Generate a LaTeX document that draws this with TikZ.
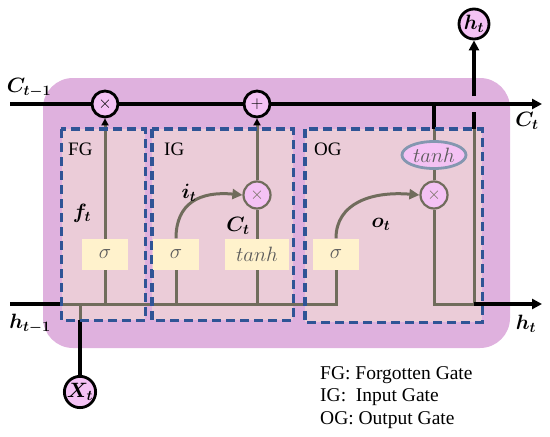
\documentclass[tikz,border=0pt]{standalone}
\usepackage{amsmath,amssymb}
\usepackage{fontspec}
\setmainfont{Liberation Serif}
\usetikzlibrary{arrows.meta,shapes.geometric,backgrounds}

\definecolor{cellbg}{RGB}{223,177,222}
\definecolor{gatebg}{RGB}{235,204,216}
\definecolor{dashblue}{RGB}{47,84,150}
\definecolor{wiregray}{RGB}{112,108,92}
\definecolor{opfill}{RGB}{244,194,244}
\definecolor{actfill}{RGB}{255,242,204}
\definecolor{actedge}{RGB}{132,151,176}
\definecolor{acttext}{RGB}{90,90,90}

\begin{document}
\begin{tikzpicture}[x=1pt,y=-1pt,
  bwire/.style={line width=3.6pt,black},
  wire/.style={line width=3pt,wiregray},
  grp/.style={draw=dashblue,line width=3.4pt,dash pattern=on 9pt off 5pt},
  grpfill/.style={fill=gatebg,inner sep=0pt},
  act/.style={fill=actfill,minimum width=46pt,minimum height=31pt,inner sep=0pt,text=acttext,font=\fontsize{20}{22}\selectfont},
  op/.style={circle,draw,line width=2.8pt,fill=opfill,minimum size=26pt,inner sep=0pt,font=\fontsize{19}{20}\selectfont},
  iop/.style={op,draw=wiregray,text=wiregray,line width=2.2pt,minimum size=27pt},
  io/.style={op,minimum size=30pt,font=\fontsize{20}{22}\selectfont},
  lbl/.style={font=\fontsize{21}{22}\selectfont},
  gname/.style={font=\fontsize{19}{22}\selectfont,anchor=west,inner sep=0pt},
  cellarrow/.style={-{Triangle[length=10pt,width=10pt]}},
  gatearrow/.style={-{Triangle[length=7pt,width=7pt,color=black]}},
  curvearrow/.style={-{Triangle[length=10pt,width=10pt]}}]
  \useasboundingbox (0,0) rectangle (550,437);

  % ends of the cell and hidden state lines
  \coordinate (cin) at (10,104);
  \coordinate (cout) at (542,104);
  \coordinate (hin) at (10,304);
  \coordinate (hout) at (542,304);
  \coordinate (hcor) at (474,304);

  % operations on the cell state
  \node[op] (fmul) at (105,104) {$\times$};
  \node[op] (cadd) at (257,104) {$+$};
  \node[io] (htop) at (474,24) {$\boldsymbol{h_t}$};
  \node[io] (xt) at (80,392) {$\boldsymbol{X_t}$};

  % gate layers
  \node[act] (sigf) at (105,254) {$\sigma$};
  \node[act] (sigi) at (176,254) {$\sigma$};
  \node[act,minimum width=64pt] (tanhi) at (257,254) {$tanh$};
  \node[act] (sigo) at (336,254) {$\sigma$};
  \node[iop] (imul) at (257,195) {$\times$};
  \node[iop] (omul) at (434,195) {$\times$};
  \node[ellipse,draw=actedge,line width=2.8pt,fill=opfill,minimum width=64pt,minimum height=27pt,inner sep=0pt,text=acttext,font=\fontsize{20}{22}\selectfont] (tanho) at (434,155) {$tanh$};

  % labels
  \node[lbl] (clast) at (29,88) {$\boldsymbol{C_{t-1}}$};
  \node[lbl] (cnext) at (527,121) {$\boldsymbol{C_t}$};
  \node[lbl] (hlast) at (30,324) {$\boldsymbol{h_{t-1}}$};
  \node[lbl] (hnext) at (526,324) {$\boldsymbol{h_t}$};
  \node[lbl] (ft) at (82,213) {$\boldsymbol{f_t}$};
  \node[lbl] (it) at (189,193) {$\boldsymbol{i_t}$};
  \node[lbl] (ct) at (238,226) {$\boldsymbol{C_t}$};
  \node[lbl] (ot) at (381,224) {$\boldsymbol{o_t}$};

  \begin{scope}[on background layer]
    \fill[cellbg,rounded corners=30pt] (43,78) rectangle (510,348);
    \node[grpfill,minimum width=83.5pt,minimum height=191pt] (fg) at (103.25,224.5) {};
    \node[grpfill,minimum width=141pt,minimum height=191pt] (ig) at (222.5,224.5) {};
    \node[grpfill,minimum width=177pt,minimum height=193pt] (og) at (393.5,225.5) {};
    \node[gname] (fgname) at (68,149) {FG};
    \node[gname] (igname) at (164,149) {IG};
    \node[gname] (ogname) at (314,149) {OG};

    \draw[bwire,cellarrow] (cin) -- (cout);
    \draw[bwire] (hin) -- (fg.west |- hin);
    \draw[wire] (fg.west |- hin) -- (sigo |- hin) -- (sigo);
    \draw[bwire] (xt) -- (xt |- fg.south);
    \draw[wire] (xt |- fg.south) -- (xt |- hin);

    % forgotten gate
    \draw[wire,gatearrow] (fmul |- hin) -- (fmul);
    % input gate
    \draw[wire] (sigi |- hin) -- (sigi);
    \draw[wire] (imul |- hin) -- (imul);
    \draw[wire,gatearrow] (imul) -- (cadd);
    \draw[wire,curvearrow] (sigi.north) .. controls (176,203) and (200,191) .. (imul.west);
    % output gate
    \draw[wire,curvearrow] (sigo.north) .. controls (336,203) and (372,191) .. (omul.west);
    \draw[bwire] (tanho |- cin) -- (tanho |- og.north);
    \draw[wire] (tanho |- og.north) -- (tanho);
    \draw[wire] (tanho) -- (omul);
    \draw[wire] (omul) -- (omul |- hin) -- (hcor) -- (hcor |- og.north);
    \draw[bwire,cellarrow] (hcor) -- (hout);
    \draw[bwire] (hcor |- og.north) -- (474,112);
    \draw[bwire,cellarrow] (474,96) -- (htop);

    \draw[grp] (fg.north west) rectangle (fg.south east);
    \draw[grp] (ig.north west) rectangle (ig.south east);
    \draw[grp] (og.north west) rectangle (og.south east);
  \end{scope}

  \node[anchor=north west,align=left,inner sep=0pt,font=\fontsize{19.5}{22.5}\selectfont] (legend) at (320,366)
    {FG: Forgotten Gate\\IG:\ \ Input Gate\\OG: Output Gate};
\end{tikzpicture}
\end{document}
